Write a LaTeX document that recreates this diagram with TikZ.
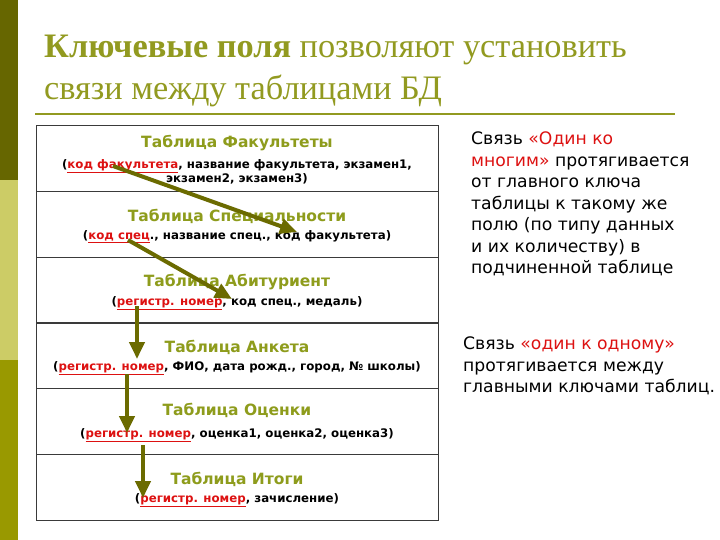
\documentclass[tikz,border=0pt]{standalone}
\usepackage{fontspec}
\setmainfont{Liberation Serif}
\newfontfamily\dv{DejaVu Sans}
\usetikzlibrary{arrows.meta}
\definecolor{barA}{HTML}{666600}
\definecolor{barB}{HTML}{CCCC66}
\definecolor{barC}{HTML}{999900}
\definecolor{titleol}{HTML}{929A20}
\definecolor{tabttl}{HTML}{8E9C1C}
\definecolor{keyred}{HTML}{DD1111}
\definecolor{arrowol}{HTML}{6B6B00}
\definecolor{gridc}{HTML}{3A3A3A}
\newcommand{\keyf}[1]{\textcolor{keyred}{\underline{#1}}}
\begin{document}
\begin{tikzpicture}[x=1pt,y=-1pt,
  rowbox/.style={draw=gridc,line width=1.2pt,minimum width=402pt,minimum height=65.8pt,inner sep=0pt,anchor=north west},
  tabtitle/.style={font=\dv\bfseries\fontsize{15.5}{18}\selectfont,text=tabttl,inner sep=0pt,anchor=center},
  tabsub/.style={font=\dv\bfseries\fontsize{11.8}{14.5}\selectfont,text=black,inner sep=0pt,anchor=center,align=center},
  sidetext/.style={font=\dv\fontsize{17.2}{21.5}\selectfont,text=black,inner sep=0pt,anchor=north west,align=left},
  keyarrow/.style={draw=arrowol,line width=4pt,-{Triangle[length=17pt,width=15pt]}},
  heading/.style={font=\fontsize{34.3}{40}\selectfont,text=titleol,inner sep=0pt,anchor=base west}
]
\useasboundingbox (0,0) rectangle (720,540);
\fill[white] (0,0) rectangle (720,540);
% left bar
\fill[barA] (0,0) rectangle (18,180);
\fill[barB] (0,180) rectangle (18,360);
\fill[barC] (0,360) rectangle (18,540);
% heading
\node[heading] (h1) at (44,58) {\textbf{Ключевые поля} позволяют установить};
\node[heading] (h2) at (44,100) {связи между таблицами БД};
\draw[titleol,line width=2pt] (35,114) -- (675,114);
% table rows
\node[rowbox] (r1) at (36,125.0) {};
\node[rowbox] (r2) at (36,190.8) {};
\node[rowbox] (r3) at (36,256.6) {};
\node[rowbox] (r4) at (36,322.4) {};
\node[rowbox] (r5) at (36,388.2) {};
\node[rowbox] (r6) at (36,454.0) {};
% row texts
\node[tabtitle] (t1) at (237,143) {Таблица Факультеты};
\node[tabsub] (s1) at (237,172) {(\keyf{код факультета}, название факультета, экзамен1,\\экзамен2, экзамен3)};
\node[tabtitle] (t2) at (237,216) {Таблица Специальности};
\node[tabsub] (s2) at (237,237) {(\keyf{код спец}., название спец., код факультета)};
\node[tabtitle] (t3) at (237,282) {Таблица Абитуриент};
\node[tabsub] (s3) at (237,303) {(\keyf{регистр. номер}, код спец., медаль)};
\node[tabtitle] (t4) at (237,347) {Таблица Анкета};
\node[tabsub] (s4) at (237,368) {(\keyf{регистр. номер}, ФИО, дата рожд., город, № школы)};
\node[tabtitle] (t5) at (237,410) {Таблица Оценки};
\node[tabsub] (s5) at (237,435) {(\keyf{регистр. номер}, оценка1, оценка2, оценка3)};
\node[tabtitle] (t6) at (237,479) {Таблица Итоги};
\node[tabsub] (s6) at (237,500) {(\keyf{регистр. номер}, зачисление)};
% arrows
\coordinate (a1s) at (113,166); \coordinate (a1e) at (297,232);
\coordinate (a2s) at (128,240); \coordinate (a2e) at (232,299);
\coordinate (a3s) at (137,306); \coordinate (a3e) at (137,359);
\coordinate (a4s) at (127,374); \coordinate (a4e) at (127,433);
\coordinate (a5s) at (143,445); \coordinate (a5e) at (143,498);
\draw[keyarrow] (a1s) -- (a1e);
\draw[keyarrow] (a2s) -- (a2e);
\draw[keyarrow] (a3s) -- (a3e);
\draw[keyarrow] (a4s) -- (a4e);
\draw[keyarrow] (a5s) -- (a5e);
% side notes
\node[sidetext] (n1) at (471,132) {Связь \textcolor{keyred}{«Один ко}\\\textcolor{keyred}{многим»} протягивается\\от главного ключа\\таблицы к такому же\\полю (по типу данных\\и их количеству) в\\подчиненной таблице};
\node[sidetext] (n2) at (463,337) {Связь \textcolor{keyred}{«один к одному»}\\протягивается между\\главными ключами таблиц.};
\end{tikzpicture}
\end{document}
